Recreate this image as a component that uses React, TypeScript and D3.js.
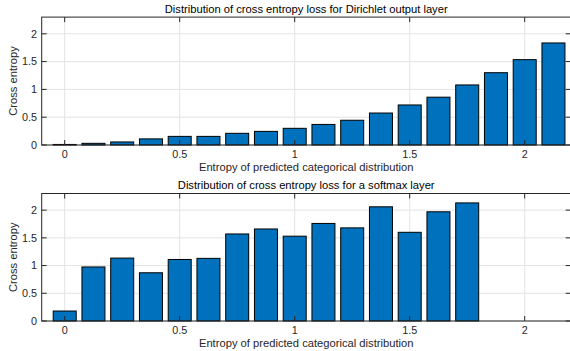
import React, { useRef, useEffect } from 'react';
import * as d3 from 'd3';

// bin centres (entropy of predicted categorical distribution)
const dirichletBins = [0, 0.125, 0.25, 0.375, 0.5, 0.625, 0.75, 0.875, 1, 1.125, 1.25, 1.375, 1.5, 1.625, 1.75, 1.875, 2, 2.125];
const dirichletLoss = [0.01, 0.03, 0.055, 0.11, 0.155, 0.155, 0.21, 0.245, 0.3, 0.37, 0.445, 0.575, 0.72, 0.86, 1.08, 1.3, 1.535, 1.835];

const softmaxBins = [0, 0.125, 0.25, 0.375, 0.5, 0.625, 0.75, 0.875, 1, 1.125, 1.25, 1.375, 1.5, 1.625, 1.75];
const softmaxLoss = [0.18, 0.975, 1.135, 0.87, 1.11, 1.13, 1.57, 1.66, 1.53, 1.76, 1.68, 2.06, 1.6, 1.97, 2.13];

const xTicks = [0, 0.5, 1, 1.5, 2];
const yTicks = [0, 0.5, 1, 1.5, 2];

const panels = [
  { title: 'Distribution of cross entropy loss for Dirichlet output layer', bins: dirichletBins, values: dirichletLoss, top: 17.1, bottom: 145 },
  { title: 'Distribution of cross entropy loss for a softmax layer', bins: softmaxBins, values: softmaxLoss, top: 193.5, bottom: 321 },
];

const WIDTH = 570;
const HEIGHT = 351;
const FONT = '"Liberation Sans", Arial, Helvetica, sans-serif';
const AXIS = '#262626';

const Chart = () => {
  const svgRef = useRef<SVGSVGElement>(null);

  useEffect(() => {
    const svg = d3.select(svgRef.current).attr('width', WIDTH).attr('height', HEIGHT).html('');
    svg.append('rect').attr('width', WIDTH).attr('height', HEIGHT).attr('fill', '#fff');

    const x = d3.scaleLinear().domain([-0.1, 2.2]).range([41.7, 570.7]);
    const barW = x(0.1) - x(0);

    panels.forEach((p) => {
      const y = d3.scaleLinear().domain([0, 2.3]).range([p.bottom, p.top]);
      const g = svg.append('g');
      const [x0, x1] = x.range();

      // grid
      g.selectAll('.gx').data(xTicks).enter().append('line')
        .attr('x1', (d) => x(d)).attr('x2', (d) => x(d))
        .attr('y1', p.top).attr('y2', p.bottom)
        .attr('stroke', '#e3e3e3');
      g.selectAll('.gy').data(yTicks).enter().append('line')
        .attr('x1', x0).attr('x2', x1)
        .attr('y1', (d) => y(d)).attr('y2', (d) => y(d))
        .attr('stroke', '#e3e3e3');

      // bars
      g.selectAll('.bar').data(p.values).enter().append('rect')
        .attr('x', (d, i) => x(p.bins[i]) - barW / 2)
        .attr('y', (d) => y(d))
        .attr('width', barW)
        .attr('height', (d) => y(0) - y(d))
        .attr('fill', '#0072BD')
        .attr('stroke', '#000')
        .attr('stroke-width', 1);

      // box
      g.append('rect')
        .attr('x', x0).attr('y', p.top)
        .attr('width', x1 - x0).attr('height', p.bottom - p.top)
        .attr('fill', 'none').attr('stroke', AXIS).attr('stroke-width', 1);

      // inward ticks on all four sides
      const tl = 5;
      xTicks.forEach((t) => {
        g.append('line').attr('x1', x(t)).attr('x2', x(t)).attr('y1', p.bottom).attr('y2', p.bottom - tl).attr('stroke', AXIS);
        g.append('line').attr('x1', x(t)).attr('x2', x(t)).attr('y1', p.top).attr('y2', p.top + tl).attr('stroke', AXIS);
      });
      yTicks.forEach((t) => {
        g.append('line').attr('x1', x0).attr('x2', x0 + tl).attr('y1', y(t)).attr('y2', y(t)).attr('stroke', AXIS);
        g.append('line').attr('x1', x1 - tl).attr('x2', x1).attr('y1', y(t)).attr('y2', y(t)).attr('stroke', AXIS);
      });

      // tick labels
      g.selectAll('.xl').data(xTicks).enter().append('text')
        .attr('x', (d) => x(d)).attr('y', p.bottom + 12.8)
        .attr('text-anchor', 'middle')
        .attr('font-family', FONT).attr('font-size', 10.8).attr('fill', AXIS)
        .text((d) => String(d));
      g.selectAll('.yl').data(yTicks).enter().append('text')
        .attr('x', 37).attr('y', (d) => y(d) + 3.8)
        .attr('text-anchor', 'end')
        .attr('font-family', FONT).attr('font-size', 10.8).attr('fill', AXIS)
        .text((d) => String(d));

      // labels
      g.append('text')
        .attr('x', (x0 + x1) / 2).attr('y', p.bottom + 25.5)
        .attr('text-anchor', 'middle')
        .attr('font-family', FONT).attr('font-size', 11.2).attr('fill', AXIS)
        .text('Entropy of predicted categorical distribution');
      g.append('text')
        .attr('transform', `translate(16.5,${(p.top + p.bottom) / 2}) rotate(-90)`)
        .attr('text-anchor', 'middle')
        .attr('font-family', FONT).attr('font-size', 11.2).attr('fill', AXIS)
        .text('Cross entropy');
      g.append('text')
        .attr('x', (x0 + x1) / 2).attr('y', p.top - 4.5)
        .attr('text-anchor', 'middle')
        .attr('font-family', FONT).attr('font-size', 11.2).attr('fill', '#000')
        .text(p.title);
    });
  }, []);

  return <svg ref={svgRef} style={{ position: 'absolute', left: 0, top: 0 }}></svg>;
};

export default function App() {
  return <Chart />;
}
